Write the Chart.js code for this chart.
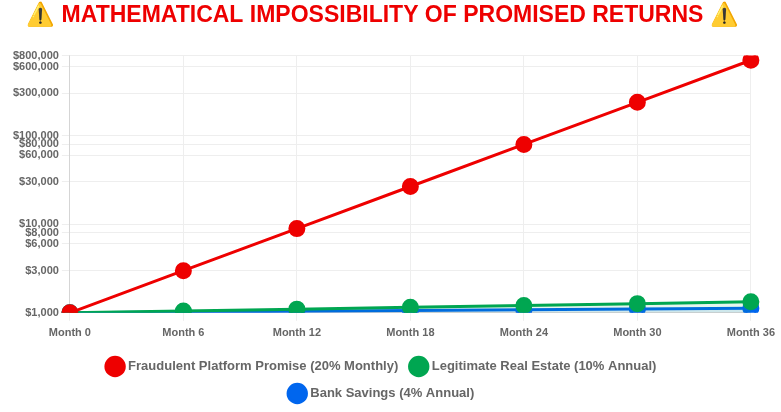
<!DOCTYPE html>
<html>
<head>
<meta charset="utf-8">
<script src="https://cdn.jsdelivr.net/npm/chart.js@4/dist/chart.umd.min.js"></script>
<style>
  body { margin: 0; background: #fff; }
  #boite { width: 781px; height: 412px; }
</style>
</head>
<body>
<div id="boite"><canvas id="graphique"></canvas></div>
<script>
const mois = ["Month 0", "Month 6", "Month 12", "Month 18", "Month 24", "Month 30", "Month 36"];
const fraude = [1000, 2986, 8916, 26623, 79497, 237376, 708802];
const immobilier = [1000, 1049, 1100, 1154, 1210, 1269, 1331];
const banque = [1000, 1020, 1040, 1061, 1082, 1104, 1126];
const graduations = [1000, 3000, 6000, 8000, 10000, 30000, 60000, 80000, 100000, 300000, 600000, 800000];

Chart.defaults.font.family = "'Liberation Sans', Arial, sans-serif";
Chart.defaults.font.weight = 'bold';
Chart.defaults.color = '#666';

function serie(titre, data, couleur, fond) {
    return {
        label: titre, data: data, borderColor: couleur, backgroundColor: couleur,
        borderWidth: 3, pointRadius: 7, pointHoverRadius: 8,
        fill: fond ? { target: 'origin', above: fond } : false
    };
}

new Chart(document.getElementById('graphique'), {
    type: 'line',
    data: {
        labels: mois,
        datasets: [
            serie('Fraudulent Platform Promise (20% Monthly)', fraude, '#ee0000'),
            serie('Legitimate Real Estate (10% Annual)', immobilier, '#00a651', 'rgba(0,166,81,0.1)'),
            serie('Bank Savings (4% Annual)', banque, '#0066ee', 'rgba(0,102,238,0.1)')
        ]
    },
    options: {
        responsive: true, maintainAspectRatio: false, animation: false,
        layout: { padding: { left: 10, right: 26, top: 0, bottom: 2 } },
        plugins: {
            title: {
                display: true, text: '⚠️ MATHEMATICAL IMPOSSIBILITY OF PROMISED RETURNS ⚠️',
                color: '#ee0000', font: { size: 23, weight: 'bold' }, padding: { top: 2, bottom: 26 }
            },
            legend: {
                position: 'bottom', maxWidth: 600,
                labels: { usePointStyle: true, pointStyle: 'circle', boxWidth: 20, boxHeight: 20, padding: 14, font: { size: 13 } }
            }
        },
        scales: {
            x: { grid: { color: '#eeeeee' }, ticks: { font: { size: 11 }, padding: 6 } },
            y: {
                type: 'logarithmic', min: 1000, max: 800000,
                grid: { color: '#eeeeee' },
                afterBuildTicks: function (axe) { axe.ticks = graduations.map(function (v) { return { value: v }; }); },
                ticks: { font: { size: 11 }, autoSkip: false, callback: function (v) { return '$' + v.toLocaleString('en-US'); } }
            }
        }
    }
});
</script>
</body>
</html>
